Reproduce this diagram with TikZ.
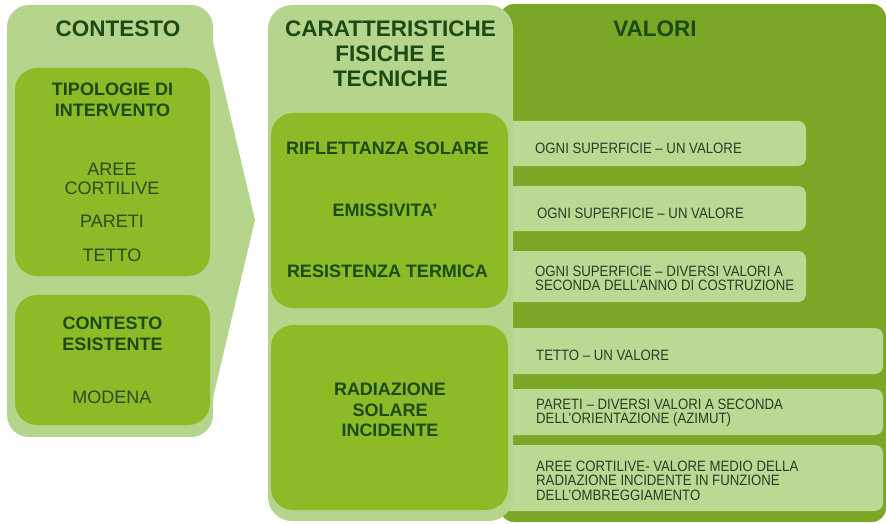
\documentclass[tikz,border=0pt]{standalone}
\usepackage{fontspec}
\setmainfont{Liberation Sans}
\definecolor{panel}{HTML}{B4D58B}
\definecolor{bright}{HTML}{8DBB28}
\definecolor{darkg}{HTML}{7AA725}
\definecolor{valbox}{HTML}{BAD993}
\definecolor{titlecol}{HTML}{1C4A14}
\definecolor{bodycol}{HTML}{2E4A22}
\definecolor{valcol}{HTML}{2F3A28}
\newcommand\vsq[1]{\scalebox{0.88}[1]{#1}}
\begin{document}
\begin{tikzpicture}[x=1pt,y=-1pt,
  bigtitle/.style={inner sep=0, align=center, text=titlecol, font=\fontsize{22.5}{25}\selectfont\bfseries},
  boxtitle/.style={inner sep=0, align=center, text=titlecol, font=\fontsize{18}{20.5}\selectfont\bfseries},
  bodytext/.style={inner sep=0, align=center, text=bodycol, font=\fontsize{18}{19.5}\selectfont},
  valtext/.style={inner sep=0, anchor=base west, text=valcol, font=\fontsize{15}{13.5}\selectfont},
  panelshape/.style={fill=panel, draw=none},
  innershape/.style={fill=bright, draw=none, rounded corners=22pt},
  valshape/.style={fill=valbox, draw=none, rounded corners=8pt}]
\useasboundingbox (0,0) rectangle (886,524);
% right (dark) panel
\fill[darkg, rounded corners=14pt] (500,4) rectangle (886,522);
% value boxes
\path[valshape] (500,121) rectangle (806,166);
\path[valshape] (500,186) rectangle (806,231);
\path[valshape] (500,251) rectangle (806,302);
\path[valshape] (500,328) rectangle (883,374);
\path[valshape] (500,389) rectangle (883,435);
\path[valshape] (500,445) rectangle (883,511);
% middle panel
\path[panelshape, rounded corners=24pt] (268,5) rectangle (513,521);
\path[innershape] (271,113) rectangle (508,308);
\path[innershape] (271,325) rectangle (508,510);
% left panel with arrow
\path[panelshape, rounded corners=22pt] (7,5) rectangle (213,437);
\path[panelshape] (212,38) -- (255,220) -- (212,402) -- cycle;
\path[innershape] (15,68) rectangle (210,276);
\path[innershape] (15,295) rectangle (210,425);
% left texts
\node[bigtitle] (tcont) at (118,29) {CONTESTO};
\node[boxtitle] (ttip) at (112.5,100) {TIPOLOGIE DI\\INTERVENTO};
\node[bodytext] (aree) at (112,179) {AREE\\CORTILIVE};
\node[bodytext] (pareti) at (112,221.5) {PARETI};
\node[bodytext] (tetto) at (112,255) {TETTO};
\node[boxtitle] (tesist) at (112.5,334) {CONTESTO\\ESISTENTE};
\node[bodytext] (modena) at (112,397) {MODENA};
% middle texts
\node[bigtitle] (tcar) at (390.5,53.5) {CARATTERISTICHE\\FISICHE E\\TECNICHE};
\node[boxtitle] (rifl) at (387.5,148.5) {RIFLETTANZA SOLARE};
\node[boxtitle] (emis) at (385,210.5) {EMISSIVITA'};
\node[boxtitle] (resi) at (387.5,271.5) {RESISTENZA TERMICA};
\node[boxtitle] (radi) at (390,410) {RADIAZIONE\\SOLARE\\INCIDENTE};
% right texts
\node[bigtitle] (tval) at (655,29) {VALORI};
\node[valtext] (v1) at (535,153.3) {\vsq{OGNI SUPERFICIE -- UN VALORE}};
\node[valtext] (v2) at (537,218.3) {\vsq{OGNI SUPERFICIE -- UN VALORE}};
\node[valtext] (v3a) at (535,276.5) {\vsq{OGNI SUPERFICIE -- DIVERSI VALORI A}};
\node[valtext] (v3b) at (535,290.5) {\vsq{SECONDA DELL'ANNO DI COSTRUZIONE}};
\node[valtext] (v4) at (536,360.7) {\vsq{TETTO -- UN VALORE}};
\node[valtext] (v5a) at (536,409.5) {\vsq{PARETI -- DIVERSI VALORI A SECONDA}};
\node[valtext] (v5b) at (536,423.5) {\vsq{DELL'ORIENTAZIONE (AZIMUT)}};
\node[valtext] (v6a) at (536,471.5) {\vsq{AREE CORTILIVE- VALORE MEDIO DELLA}};
\node[valtext] (v6b) at (536,485.7) {\vsq{RADIAZIONE INCIDENTE IN FUNZIONE}};
\node[valtext] (v6c) at (536,500) {\vsq{DELL'OMBREGGIAMENTO}};
\end{tikzpicture}
\end{document}
